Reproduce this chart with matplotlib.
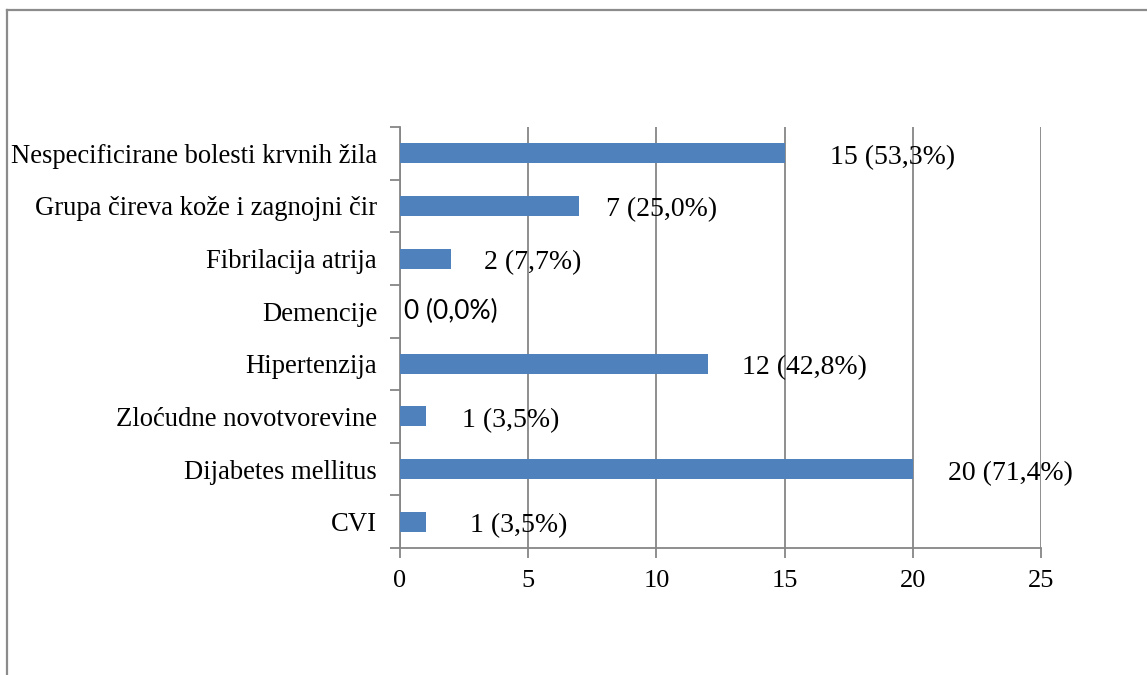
import matplotlib
matplotlib.use("Agg")
from matplotlib import pyplot as plt
from matplotlib.lines import Line2D

# categories listed bottom -> top
categories = ["CVI", "Dijabetes mellitus", "Zloćudne novotvorevine", "Hipertenzija",
              "Demencije", "Fibrilacija atrija", "Grupa čireva kože i zagnojni čir",
              "Nespecificirane bolesti krvnih žila"]
counts = [1, 20, 1, 12, 0, 2, 7, 15]
labels = ["1 (3,5%)", "20 (71,4%)", "1 (3,5%)", "12 (42,8%)",
          "0 (0,0%)", "2 (7,7%)", "7 (25,0%)", "15 (53,3%)"]
label_shift = [44, 35, 36, 34, 4, 33, 27, 45]  # pixels right of bar end
x_ticks = [0, 5, 10, 15, 20, 25]

bar_color = "#4F81BD"
grid_color = "#868686"
serif = "Liberation Serif"

fig = plt.figure(figsize=(11.47, 6.75), dpi=100)
fig.patch.set_facecolor("white")

# outer frame (top and left edges only visible)
fig.add_artist(Line2D([7 / 1147, 1], [1 - 10 / 675, 1 - 10 / 675], transform=fig.transFigure,
                      color="#8c8c8c", lw=1.6))
fig.add_artist(Line2D([7 / 1147, 7 / 1147], [0, 1 - 10 / 675], transform=fig.transFigure,
                      color="#8c8c8c", lw=1.6))

ax = fig.add_axes([400 / 1147, 1 - 548 / 675, 641 / 1147, 421 / 675])
y = list(range(len(categories)))
ax.barh(y, counts, height=0.38, color=bar_color, zorder=3)

ax.set_xlim(0, 25)
ax.set_ylim(-0.5, len(categories) - 0.5)
ax.set_xticks(x_ticks)
ax.set_xticklabels([str(t) for t in x_ticks], fontsize=19, family=serif)
ax.set_yticks(y)
ax.set_yticklabels(categories, fontsize=19.2, family=serif)
ax.set_yticks([i - 0.5 for i in range(len(categories) + 1)], minor=True)
ax.tick_params(axis="y", which="major", length=0, pad=16.5)
ax.tick_params(axis="y", which="minor", length=7, color=grid_color, width=1.3)
ax.tick_params(axis="x", length=7, color=grid_color, width=1.3, pad=9)

ax.grid(axis="x", color=grid_color, lw=1.3, zorder=1)
for side in ["top", "right"]:
    ax.spines[side].set_visible(False)
for side in ["left", "bottom"]:
    ax.spines[side].set_color(grid_color)
    ax.spines[side].set_linewidth(1.3)

for yi, c, txt, dx in zip(y, counts, labels, label_shift):
    if c == 0:
        ax.annotate(txt, (c, yi), xytext=(dx * 0.72, 0), textcoords="offset points",
                    va="center", ha="left", fontsize=19, family="Lato", zorder=4)
    else:
        ax.annotate(txt, (c, yi), xytext=(dx * 0.72, -3), textcoords="offset points",
                    va="center", ha="left", fontsize=20, family=serif, zorder=4)

fig.savefig("out.png", dpi=100)
